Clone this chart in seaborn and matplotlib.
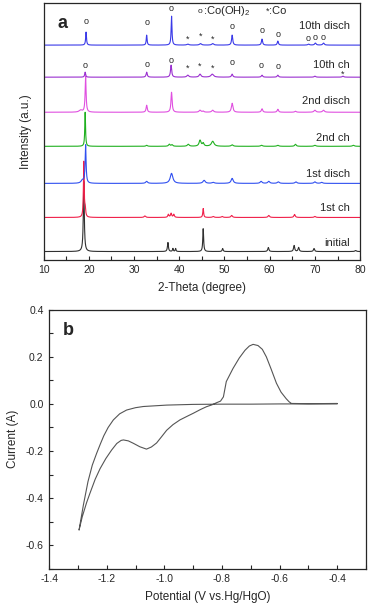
import numpy as np
import pandas as pd
import seaborn as sns
import matplotlib
matplotlib.use('Agg')
import matplotlib.pyplot as plt
from matplotlib.ticker import MultipleLocator

sns.set_style('ticks')
plt.rcParams['font.family'] = ['Liberation Sans', 'DejaVu Sans']
plt.rcParams['mathtext.fontset'] = 'custom'
plt.rcParams['mathtext.rm'] = 'Liberation Sans'
plt.rcParams['mathtext.default'] = 'regular'
plt.rcParams['axes.unicode_minus'] = False

# ---- panel a: XRD patterns (peak tables: position, height, fwhm) ----
labels = ['initial', '1st ch', '1st disch', '2nd ch', '2nd disch', '10th ch', '10th disch']
colors = ['#303030', '#f0204a', '#3050f0', '#20b020', '#e050e0', '#9a30d0', '#3a3ae8']
offsets = [8, 42, 76, 113, 147, 182, 214]

peaks_pos = {
    'initial':    [18.9, 37.5, 38.6, 39.2, 45.3, 49.6, 59.7, 65.4, 66.4, 69.8, 79.0],
    '1st ch':     [18.9, 19.2, 32.4, 37.6, 38.2, 38.8, 45.3, 47.5, 49.5, 51.6, 59.8, 65.5, 70.0],
    '1st disch':  [19.3, 18.6, 32.8, 38.3, 45.5, 47.5, 51.7, 58.1, 59.8, 61.9, 65.8, 70.0, 71.5],
    '2nd ch':     [19.2, 32.8, 37.8, 38.4, 42.0, 44.6, 45.3, 47.4, 51.7, 58.2, 61.8, 65.7, 70.0, 78.5],
    '2nd disch':  [19.3, 18.2, 32.8, 38.3, 44.6, 45.3, 47.4, 51.7, 58.3, 61.8, 65.7, 70.0, 71.9],
    '10th ch':    [19.2, 32.8, 38.2, 41.9, 44.6, 47.3, 51.7, 58.3, 61.8, 70.0, 76.2],
    '10th disch': [19.4, 32.8, 38.3, 41.9, 44.7, 47.4, 51.7, 58.3, 61.8, 68.6, 70.1, 71.9],
}
peaks_h = {
    'initial':    [70, 9, 3, 3, 23, 3, 4, 6, 4, 3, 1],
    '1st ch':     [55, 8, 1.5, 3, 4, 3, 9, 1, 1, 2, 2, 3, 1],
    '1st disch':  [38, 3, 2, 10, 3, 1, 5, 2, 2, 1.5, 1.5, 1.5, 1],
    '2nd ch':     [34, 1, 2, 1.5, 2, 6, 3, 5, 1.5, 1, 1, 2, 1, 1],
    '2nd disch':  [36, 2, 7, 20, 2, 1, 2, 9, 3.5, 3, 1, 2, 2],
    '10th ch':    [5, 5, 12, 2, 3, 3, 3, 2, 2, 1, 1],
    '10th disch': [13, 10, 29, 1, 1.5, 1.5, 10, 6, 4, 1, 2, 2],
}
peaks_w = {
    'initial':    [0.25, 0.25, 0.2, 0.2, 0.22, 0.25, 0.3, 0.3, 0.3, 0.3, 0.4],
    '1st ch':     [0.2, 0.25, 0.4, 0.3, 0.3, 0.3, 0.22, 0.4, 0.4, 0.4, 0.4, 0.35, 0.4],
    '1st disch':  [0.25, 0.7, 0.5, 0.7, 0.6, 0.6, 0.55, 0.5, 0.5, 0.5, 0.5, 0.5, 0.5],
    '2nd ch':     [0.2, 0.4, 0.4, 0.4, 0.5, 0.5, 0.4, 0.7, 0.5, 0.5, 0.5, 0.4, 0.5, 0.5],
    '2nd disch':  [0.25, 0.8, 0.3, 0.3, 0.5, 0.4, 0.5, 0.4, 0.35, 0.35, 0.4, 0.5, 0.5],
    '10th ch':    [0.25, 0.3, 0.3, 0.5, 0.5, 0.7, 0.35, 0.35, 0.35, 0.4, 0.4],
    '10th disch': [0.22, 0.22, 0.22, 0.5, 0.5, 0.5, 0.3, 0.3, 0.3, 0.4, 0.4, 0.4],
}

# marker glyphs above peaks: (2theta, height above baseline, glyph)
marks_10disch = [(19.5, 21, 'o'), (32.8, 20, 'o'), (38.3, 34, 'o'), (41.9, 3, '*'), (44.7, 6, '*'),
                 (47.4, 3, '*'), (51.7, 16, 'o'), (58.3, 12, 'o'), (61.8, 8, 'o'),
                 (68.6, 4, 'o'), (70.1, 5, 'o'), (71.9, 5, 'o')]
marks_10ch = [(19.2, 9, 'o'), (32.8, 10, 'o'), (38.3, 14, 'o'), (41.9, 6, '*'), (44.6, 8, '*'),
              (47.3, 6, '*'), (51.7, 12, 'o'), (58.2, 9, 'o'), (61.8, 8, 'o'), (76.2, 0, '*')]

two_theta = np.linspace(10, 80, 3500)
rows = []
for lab, off in zip(labels, offsets):
    y = np.full_like(two_theta, off, dtype=float)
    for p, h, w in zip(peaks_pos[lab], peaks_h[lab], peaks_w[lab]):
        g = w / 2
        y += h * g**2 / ((two_theta - p)**2 + g**2)
    rows.append(pd.DataFrame({'two_theta': two_theta, 'intensity': y, 'sample': lab}))
xrd = pd.concat(rows, ignore_index=True)

# ---- panel b: CV loop ----
potential = [-0.40, -0.50, -0.60, -0.70, -0.80, -0.90, -0.992, -1.073, -1.10, -1.131, -1.155,
             -1.177, -1.195, -1.21, -1.222, -1.235, -1.25, -1.265, -1.281, -1.296,
             -1.285, -1.27, -1.258, -1.24, -1.223, -1.203, -1.183, -1.165, -1.15, -1.142,
             -1.125, -1.108, -1.085, -1.062, -1.045, -1.027, -1.01, -0.992, -0.97, -0.946,
             -0.92, -0.90, -0.875, -0.854, -0.835, -0.819, -0.805, -0.795, -0.785, -0.762,
             -0.74, -0.72, -0.705, -0.692, -0.675, -0.66, -0.646, -0.63, -0.611, -0.595,
             -0.577, -0.567, -0.559, -0.50, -0.40]
current = [0.000, 0.000, 0.000, -0.001, -0.001, -0.002, -0.005, -0.011, -0.016, -0.026, -0.042,
           -0.068, -0.100, -0.135, -0.170, -0.210, -0.260, -0.330, -0.430, -0.536,
           -0.480, -0.420, -0.379, -0.320, -0.275, -0.232, -0.196, -0.168, -0.155, -0.153,
           -0.157, -0.167, -0.182, -0.192, -0.183, -0.166, -0.140, -0.112, -0.088, -0.068,
           -0.052, -0.040, -0.024, -0.012, -0.004, 0.005, 0.012, 0.030, 0.095, 0.150,
           0.195, 0.228, 0.246, 0.253, 0.248, 0.232, 0.200, 0.150, 0.088, 0.050,
           0.022, 0.009, 0.002, 0.001, 0.002]
cv = pd.DataFrame({'potential': potential, 'current': current})

fig = plt.figure(figsize=(3.69, 6.05), dpi=100)
ax1 = fig.add_axes([0.118, 0.571, 0.858, 0.424])
ax2 = fig.add_axes([0.133, 0.060, 0.859, 0.428])

sns.lineplot(data=xrd, x='two_theta', y='intensity', hue='sample', hue_order=labels,
             palette=colors, linewidth=0.8, legend=False, sort=False, estimator=None, ax=ax1)
ax1.set_xlim(10, 80)
ax1.set_ylim(0, 256)
ax1.set_yticks([])
ax1.xaxis.set_major_locator(MultipleLocator(10))
ax1.xaxis.set_minor_locator(MultipleLocator(5))
ax1.tick_params(axis='x', which='both', direction='in', length=3, width=0.8, labelsize=7.5, pad=4)
ax1.set_xlabel('2-Theta (degree)', fontsize=8.5, labelpad=5)
ax1.set_ylabel('Intensity (a.u.)', fontsize=8.5, labelpad=8)

label_y = [17, 51, 85, 121, 158, 194, 233]
for lab, ly in zip(labels, label_y):
    ax1.text(77.8, ly, lab, fontsize=8, ha='right', va='center')

for p, dy, g in marks_10disch:
    ax1.text(p, offsets[6] + dy + 3, g, fontsize=6.5, ha='center', va='center')
for p, dy, g in marks_10ch:
    ax1.text(p, offsets[5] + dy + 3, g, fontsize=6.5, ha='center', va='center')

ax1.text(44.5, 248, 'o', fontsize=6, ha='center', va='center')
ax1.text(45.3, 248, r':Co(OH)$_2$', fontsize=8, ha='left', va='center')
ax1.text(59.5, 248, '*', fontsize=6.5, ha='center', va='center')
ax1.text(59.9, 248, ':Co', fontsize=8, ha='left', va='center')
ax1.text(14.2, 236, 'a', fontsize=13, fontweight='bold', ha='center', va='center')

sns.lineplot(data=cv, x='potential', y='current', sort=False, estimator=None, color='#555555',
             linewidth=0.8, ax=ax2)
ax2.set_xlim(-1.4, -0.3)
ax2.set_ylim(-0.7, 0.4)
ax2.xaxis.set_major_locator(MultipleLocator(0.2))
ax2.xaxis.set_minor_locator(MultipleLocator(0.1))
ax2.yaxis.set_major_locator(MultipleLocator(0.2))
ax2.yaxis.set_minor_locator(MultipleLocator(0.1))
ax2.tick_params(which='both', direction='in', length=3, width=0.8, labelsize=7.5, pad=4)
ax2.set_xlabel('Potential (V vs.Hg/HgO)', fontsize=8.5, labelpad=5)
ax2.set_ylabel('Current (A)', fontsize=8.5, labelpad=5)
ax2.text(-1.334, 0.31, 'b', fontsize=13, fontweight='bold', ha='center', va='center')

for ax in (ax1, ax2):
    for s in ax.spines.values():
        s.set_linewidth(0.9)
        s.set_visible(True)

fig.savefig('out.png', dpi=100)
